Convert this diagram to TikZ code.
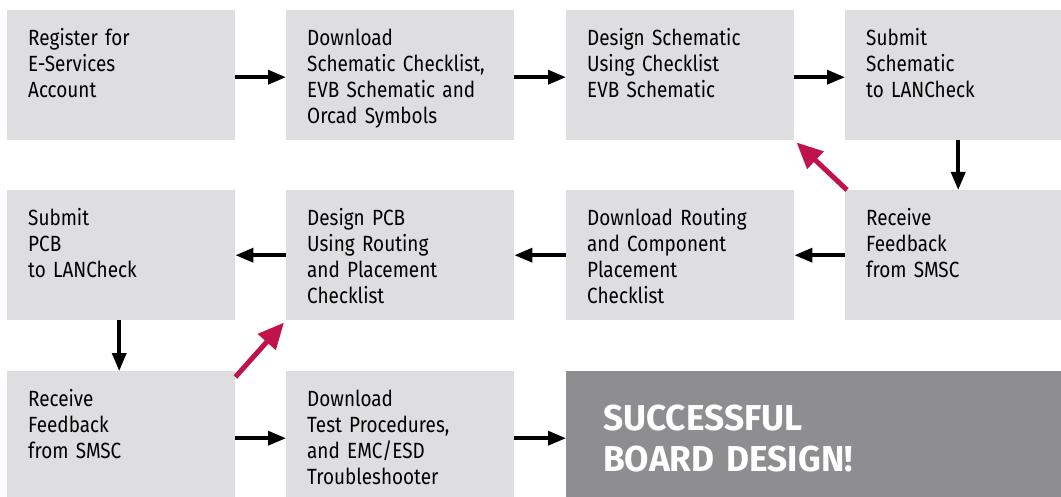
\documentclass[tikz,border=0pt]{standalone}
\usepackage{fontspec}
\setmainfont{Fira Sans}[FakeStretch=0.86]
\newfontfamily\donefont{Fira Sans}[FakeStretch=0.98]
\usetikzlibrary{arrows.meta}
\definecolor{boxgray}{HTML}{DEDEE0}
\definecolor{donegray}{HTML}{8E8E90}
\definecolor{backred}{HTML}{C0134A}

\begin{document}
\begin{tikzpicture}[x=1pt,y=-1pt,
    step box/.style={fill=boxgray,anchor=north west,inner xsep=21pt,inner ysep=17pt,
        text width=186pt,align=left,text height=18pt,text depth=78pt,
        font=\fontsize{22}{26}\selectfont},
    narrow box/.style={step box,text width=174pt},
    low box/.style={text depth=74pt},
    done box/.style={fill=donegray,anchor=north west,inner xsep=37pt,inner ysep=0pt,
        text width=421pt,align=left,text height=59pt,text depth=67pt,text=white,
        font=\donefont\fontsize{36}{41}\selectfont\bfseries},
    flow/.style={-{Triangle[length=18pt,width=14pt]},line width=3.5pt},
    back/.style={-{Triangle[length=26pt,width=23pt]},line width=5pt,color=backred,shorten >=3pt}]
    \useasboundingbox (0,0) rectangle (1061,497);

    % first row
    \node[step box] (reg) at (7,10) {Register for\\E-Services\\Account};
    \node[step box] (dlsch) at (286,10) {Download\\Schematic Checklist,\\EVB Schematic and\\Orcad Symbols};
    \node[step box] (dessch) at (566,10) {Design Schematic\\Using Checklist\\EVB Schematic};
    \node[narrow box] (subsch) at (845,10) {Submit\\Schematic\\to LANCheck};

    % second row
    \node[narrow box] (recv1) at (845,190) {Receive\\Feedback\\from SMSC};
    \node[step box] (dlrout) at (566,190) {Download Routing\\and Component\\Placement\\Checklist};
    \node[step box] (despcb) at (286,190) {Design PCB\\Using Routing\\and Placement\\Checklist};
    \node[step box] (subpcb) at (7,190) {Submit\\PCB\\to LANCheck};

    % third row
    \node[step box,low box] (recv2) at (7,371) {Receive\\Feedback\\from SMSC};
    \node[step box,low box] (dltest) at (286,371) {Download\\Test Procedures,\\and EMC/ESD\\Troubleshooter};
    \node[done box] (done) at (566,371) {SUCCESSFUL\\BOARD DESIGN!};

    \draw[flow] ([yshift=-2pt]reg.east) -- ([yshift=-2pt]dlsch.west);
    \draw[flow] ([yshift=-2pt]dlsch.east) -- ([yshift=-2pt]dessch.west);
    \draw[flow] ([yshift=-2pt]dessch.east) -- ([yshift=-2pt]subsch.west);
    \draw[flow] ([xshift=5pt]subsch.south) -- ([xshift=5pt]recv1.north);
    \draw[flow] (recv1.west) -- (dlrout.east);
    \draw[flow] (dlrout.west) -- (despcb.east);
    \draw[flow] (despcb.west) -- (subpcb.east);
    \draw[flow] ([xshift=-2pt]subpcb.south) -- ([xshift=-2pt]recv2.north);
    \draw[flow] ([yshift=-4pt]recv2.east) -- ([yshift=-4pt]dltest.west);
    \draw[flow] ([yshift=-4pt]dltest.east) -- ([yshift=-4pt]done.west);

    \draw[back] ([xshift=2pt]recv1.north west) -- (dessch.south east);
    \draw[back] ([yshift=-6pt]recv2.north east) -- (despcb.south west);
\end{tikzpicture}
\end{document}
